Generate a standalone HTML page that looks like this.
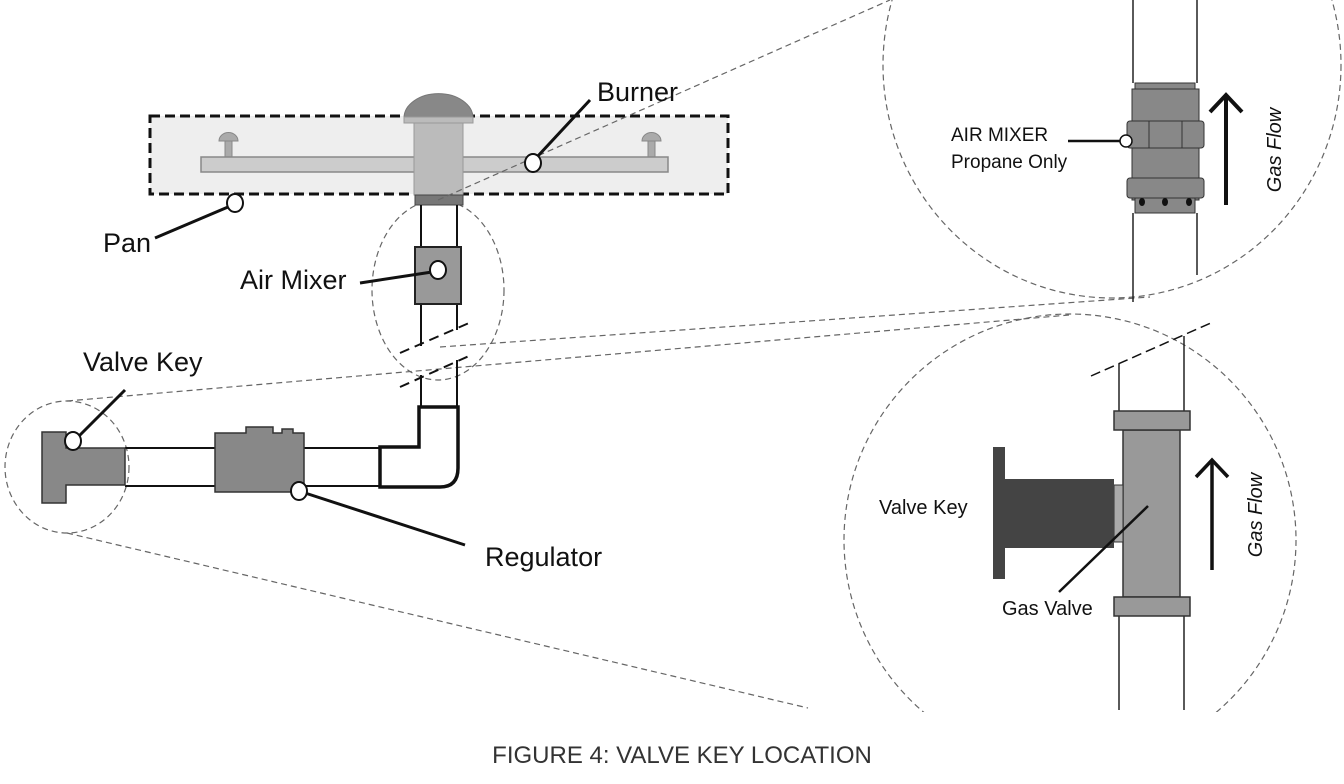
<!DOCTYPE html>
<html><head><meta charset="utf-8"><style>
html,body{margin:0;padding:0;background:#fff;}
svg{display:block;}
text{font-family:"Liberation Sans",sans-serif;fill:#111;}
</style></head><body>
<svg width="1344" height="784" viewBox="0 0 1344 784" xmlns="http://www.w3.org/2000/svg">
<defs>
<clipPath id="cb"><rect x="0" y="0" width="1344" height="712"/></clipPath>
</defs>
<!-- dashed zoom lines -->
<g stroke="#666" stroke-width="1.2" stroke-dasharray="6,4" fill="none">
<line x1="440" y1="347" x2="1150" y2="297"/>
<line x1="67" y1="401" x2="1069" y2="315"/>
<line x1="67" y1="533" x2="808" y2="708"/>
<ellipse cx="438" cy="290" rx="66" ry="90"/>
<ellipse cx="67" cy="467" rx="62" ry="66"/>
<ellipse cx="1112" cy="65" rx="229" ry="233"/>
<circle cx="1070" cy="540" r="226" clip-path="url(#cb)"/>
</g>

<!-- Pan -->
<rect x="150" y="116" width="578" height="78" fill="#eee" stroke="#111" stroke-width="3" stroke-dasharray="10,5"/>
<g fill="#aaa" stroke="#888" stroke-width="1">
<rect x="225" y="140" width="7" height="17"/><path d="M219 141 a9 8 0 0 1 19 0 z"/>
<rect x="648" y="140" width="7" height="17"/><path d="M642 141 a9 8 0 0 1 19 0 z"/>
</g>
<rect x="201" y="157" width="467" height="15" fill="#ccc" stroke="#888" stroke-width="1.5"/>
<rect x="414" y="122" width="49" height="73" fill="#bbb" stroke="#999" stroke-width="1"/>
<path d="M404 118 a34 24 0 0 1 69 0 z" fill="#888" stroke="#777"/>
<rect x="404" y="117" width="69" height="6" fill="#bbb" stroke="#999"/>
<rect x="415" y="195" width="48" height="10" fill="#777" stroke="#444"/>
<line x1="438" y1="200" x2="890" y2="0" stroke="#666" stroke-width="1.2" stroke-dasharray="6,4"/>

<!-- vertical pipe -->
<g stroke="#111" stroke-width="2">
<line x1="421" y1="205" x2="421" y2="346"/><line x1="457" y1="205" x2="457" y2="330"/>
<line x1="421" y1="375" x2="421" y2="407"/><line x1="457" y1="360" x2="457" y2="407"/>
</g>
<g stroke="#111" stroke-width="2" stroke-dasharray="10,6">
<line x1="400" y1="353" x2="469" y2="323"/>
<line x1="400" y1="387" x2="469" y2="356"/>
</g>
<rect x="415" y="247" width="46" height="57" fill="#999" stroke="#222" stroke-width="2"/>

<!-- elbow -->
<path d="M419 447 V407 H458 V468 Q458 487 440 487 H380 V447 Z" fill="#fff" stroke="#111" stroke-width="3.5"/>
<g stroke="#111" stroke-width="2"><line x1="125" y1="448" x2="380" y2="448"/><line x1="125" y1="486" x2="380" y2="486"/></g>
<path d="M215 433 H246 V427 H273 V433 H282 V429 H293 V433 H304 V492 H215 Z" fill="#888" stroke="#333" stroke-width="1.5"/>
<path d="M42 432 H66 V448 H125 V485 H66 V503 H42 Z" fill="#888" stroke="#333" stroke-width="1.5"/>

<!-- leaders -->
<g stroke="#111" stroke-width="3" fill="none">
<line x1="228" y1="207" x2="155" y2="238"/>
<line x1="537" y1="157" x2="590" y2="100"/>
<line x1="360" y1="283" x2="432" y2="272"/>
<line x1="125" y1="390" x2="75" y2="440"/>
<line x1="302" y1="492" x2="465" y2="545"/>
</g>
<g fill="#fff" stroke="#111" stroke-width="2">
<ellipse cx="235" cy="203" rx="8" ry="9"/>
<ellipse cx="533" cy="163" rx="8" ry="9"/>
<ellipse cx="438" cy="270" rx="8" ry="9"/>
<ellipse cx="73" cy="441" rx="8" ry="9"/>
<ellipse cx="299" cy="491" rx="8" ry="9"/>
</g>
<g font-size="27">
<text x="103" y="252">Pan</text>
<text x="597" y="101">Burner</text>
<text x="240" y="289">Air Mixer</text>
<text x="83" y="371">Valve Key</text>
<text x="485" y="566">Regulator</text>
</g>

<!-- top right detail -->
<g stroke="#222" stroke-width="1.5">
<line x1="1133" y1="0" x2="1133" y2="83"/><line x1="1197" y1="0" x2="1197" y2="83"/>
<line x1="1133" y1="213" x2="1133" y2="302"/><line x1="1197" y1="213" x2="1197" y2="275"/>
</g>
<rect x="1135" y="83" width="60" height="7" fill="#888" stroke="#333"/>
<rect x="1132" y="89" width="67" height="111" fill="#888" stroke="#333"/>
<rect x="1127" y="121" width="77" height="27" rx="3" fill="#888" stroke="#333"/>
<line x1="1149" y1="121" x2="1149" y2="148" stroke="#333"/><line x1="1182" y1="121" x2="1182" y2="148" stroke="#333"/>
<rect x="1127" y="178" width="77" height="20" rx="3" fill="#888" stroke="#333"/>
<rect x="1135" y="198" width="60" height="15" fill="#888" stroke="#333"/>
<g fill="#111"><ellipse cx="1142" cy="202" rx="3" ry="4"/><ellipse cx="1165" cy="202" rx="3" ry="4"/><ellipse cx="1189" cy="202" rx="3" ry="4"/></g>
<line x1="1068" y1="141" x2="1120" y2="141" stroke="#111" stroke-width="2.5"/>
<circle cx="1126" cy="141" r="6" fill="#fff" stroke="#111" stroke-width="1.5"/>
<text x="951" y="141" font-size="19">AIR MIXER</text>
<text x="951" y="168" font-size="19">Propane Only</text>
<g stroke="#111" stroke-width="4" fill="none"><line x1="1226" y1="205" x2="1226" y2="95"/><polyline points="1210,112 1226,95 1242,112"/></g>
<text transform="translate(1281,150) rotate(-90)" text-anchor="middle" font-size="20" font-style="italic">Gas Flow</text>

<!-- bottom right detail -->
<g stroke="#222" stroke-width="1.5">
<line x1="1119" y1="364" x2="1119" y2="411"/><line x1="1184" y1="336" x2="1184" y2="411"/>
<line x1="1119" y1="616" x2="1119" y2="710"/><line x1="1184" y1="616" x2="1184" y2="710"/>
</g>
<line x1="1091" y1="376" x2="1213" y2="322" stroke="#111" stroke-width="1.5" stroke-dasharray="10,5"/>
<rect x="1123" y="430" width="57" height="167" fill="#999" stroke="#333" stroke-width="1.5"/>
<rect x="1114" y="411" width="76" height="19" fill="#999" stroke="#333" stroke-width="1.5"/>
<rect x="1114" y="597" width="76" height="19" fill="#999" stroke="#333" stroke-width="1.5"/>
<rect x="1114" y="485" width="9" height="57" fill="#aaa" stroke="#333"/>
<path d="M993 447 H1005 V479 H1114 V548 H1005 V579 H993 Z" fill="#444"/>
<line x1="1148" y1="506" x2="1059" y2="592" stroke="#111" stroke-width="2.5"/>
<text x="879" y="514" font-size="20">Valve Key</text>
<text x="1002" y="615" font-size="20">Gas Valve</text>
<g stroke="#111" stroke-width="3.5" fill="none"><line x1="1212" y1="570" x2="1212" y2="460"/><polyline points="1196,477 1212,460 1228,477"/></g>
<text transform="translate(1262,515) rotate(-90)" text-anchor="middle" font-size="20" font-style="italic">Gas Flow</text>

<text x="682" y="763" text-anchor="middle" font-size="24" style="fill:#333">FIGURE 4: VALVE KEY LOCATION</text>
</svg>
</body></html>
